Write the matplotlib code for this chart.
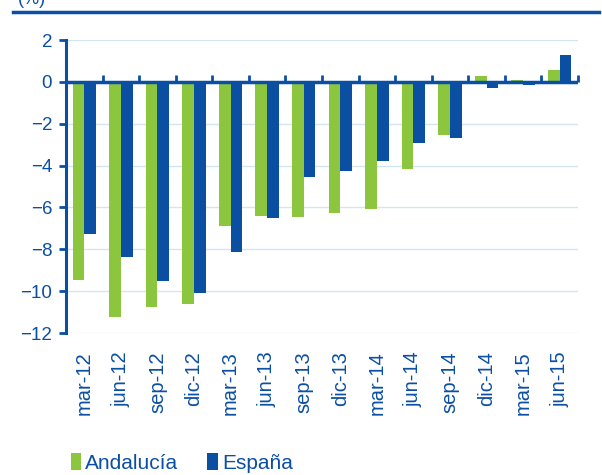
import numpy as np
import matplotlib.pyplot as plt

plt.rcParams['font.family'] = ['Liberation Sans', 'DejaVu Sans']

periodos = ['mar-12', 'jun-12', 'sep-12', 'dic-12', 'mar-13', 'jun-13', 'sep-13',
            'dic-13', 'mar-14', 'jun-14', 'sep-14', 'dic-14', 'mar-15', 'jun-15']
andalucia = [-9.47, -11.25, -10.78, -10.62, -6.87, -6.43, -6.46,
             -6.25, -6.08, -4.14, -2.55, 0.29, 0.08, 0.56]
espana = [-7.27, -8.39, -9.52, -10.08, -8.12, -6.51, -4.55,
          -4.24, -3.80, -2.93, -2.68, -0.30, -0.15, 1.26]

azul = '#0b4fa3'
verde = '#8cc63f'
rejilla = '#d3e6f0'

fig = plt.figure(figsize=(6.02, 4.75), dpi=100)
ax = fig.add_axes([66 / 602, 1 - 333 / 475, 512 / 602, 293 / 475])

x = np.arange(len(periodos))
w = 0.32
ax.bar(x - w / 2, andalucia, w, color=verde, label='Andalucía', zorder=2)
ax.bar(x + w / 2, espana, w, color=azul, label='España', zorder=2)

ax.set_xlim(-0.5, len(periodos) - 0.5)
ax.set_ylim(-12, 2)
ax.set_yticks(np.arange(-12, 3, 2))
ax.grid(axis='y', color=rejilla, linewidth=1, zorder=0)
ax.axhline(0, color=azul, linewidth=2.5, zorder=3)

for s in ['top', 'right', 'bottom']:
    ax.spines[s].set_visible(False)
ax.spines['left'].set_color(azul)
ax.spines['left'].set_linewidth(2.2)

ax.tick_params(axis='y', colors=azul, labelsize=13.5, length=5, width=2, direction='out', pad=5)
ax.set_xticks(x)
ax.set_xticklabels(periodos, rotation=90, color=azul, fontsize=14.5)
ax.tick_params(axis='x', length=0, pad=13)

# marcas del eje x sobre la linea del cero
sec = ax.secondary_xaxis(12 / 14)
for s in sec.spines.values():
    s.set_visible(False)
sec.set_xticks(np.arange(-0.5, len(periodos), 1))
sec.set_xticklabels([])
sec.tick_params(axis='x', colors=azul, length=5, width=2, direction='out')

# linea superior y titulo cortado
fig.add_artist(plt.Line2D([13 / 602, 599 / 602], [1 - 12 / 475] * 2,
                          color=azul, linewidth=2.5, transform=fig.transFigure))
fig.text(18 / 602, 1.0, '(%)', color=azul, fontsize=13, ha='left', va='center')

fig.legend(loc='lower left', bbox_to_anchor=(58 / 602, -0.022), ncol=2, frameon=False,
           fontsize=15, handlelength=0.5, handleheight=0.9, handletextpad=0.2,
           columnspacing=1.4, labelcolor=azul, borderaxespad=0.2)

fig.savefig('out.png', dpi=100)
